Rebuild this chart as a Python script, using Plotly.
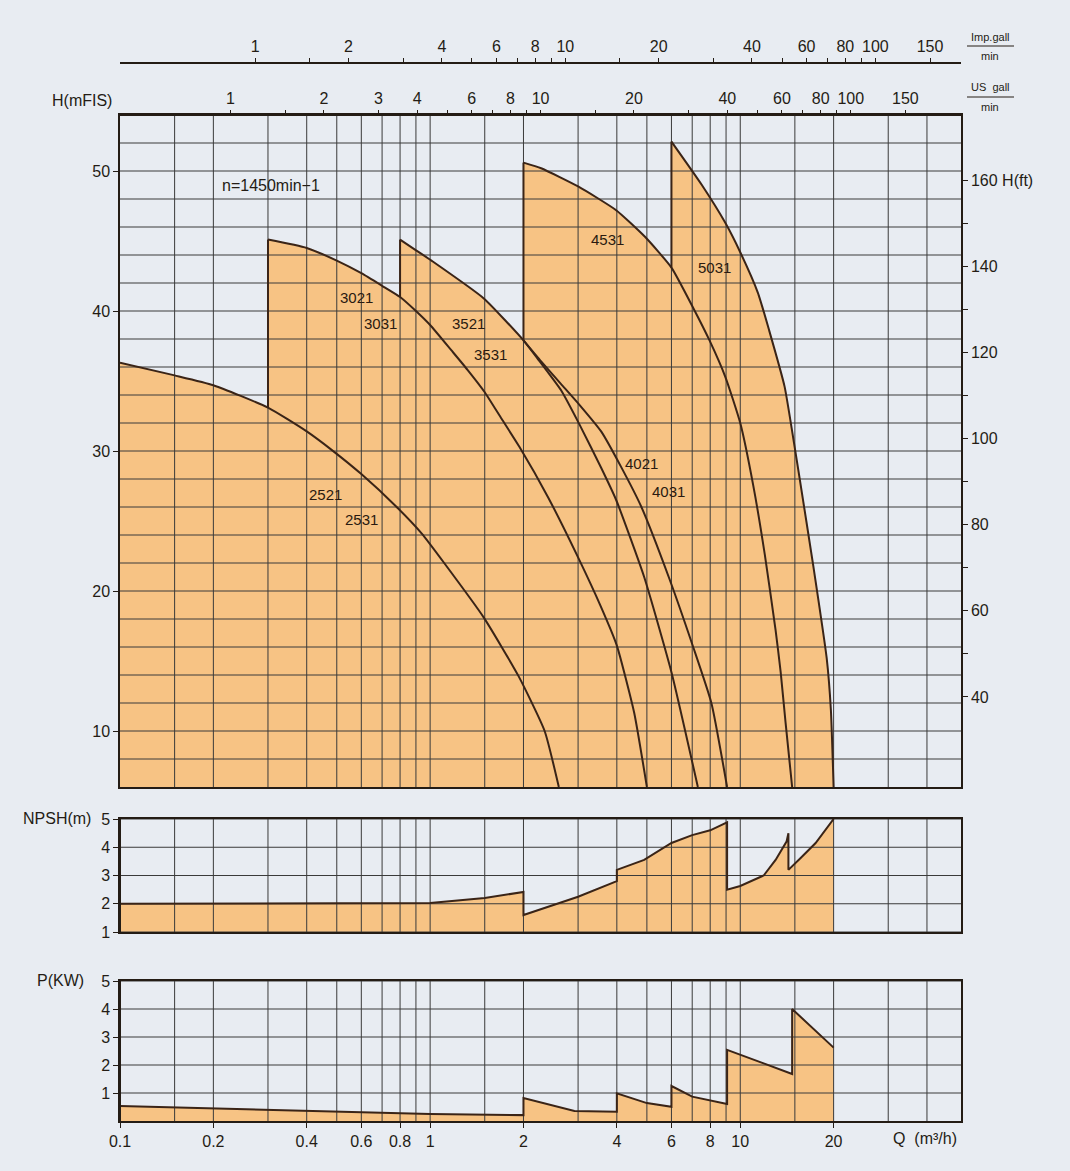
import numpy as np
import plotly.graph_objects as go

# ------------------------------------------------------------------ data
# Q in m3/h, H in m
Q_2521 = [0.1, 0.15, 0.2, 0.3, 0.4, 0.48, 0.6, 0.78, 0.94, 1.11, 1.49, 1.93, 2.34, 2.6]
H_2521 = [36.3, 35.4, 34.7, 33.1, 31.4, 30.1, 28.35, 26.0, 24.1, 22.0, 18.1, 13.9, 10.0, 6.0]

Q_3021 = [0.3, 0.4, 0.5, 0.6, 0.7, 0.8, 0.9, 1.0, 1.17, 1.32, 1.5, 1.7, 1.94, 2.4, 3.0,
          3.55, 4.0, 4.55, 5.0]
H_3021 = [45.1, 44.5, 43.6, 42.7, 41.8, 41.0, 40.0, 39.0, 37.2, 35.8, 34.2, 32.3, 30.3,
          26.7, 22.4, 18.9, 16.1, 11.3, 6.0]

Q_3521 = [0.8, 0.906, 1.01, 1.49, 2.0, 2.22, 2.65, 3.03, 3.56, 3.98, 4.9, 6.0, 7.3]
H_3521 = [45.1, 44.3, 43.6, 40.9, 37.9, 36.6, 34.3, 31.9, 28.8, 26.5, 21.0, 14.2, 6.0]

Q_4021 = [2.0, 2.28, 2.64, 3.03, 3.56, 4.12, 4.8, 5.88, 7.05, 8.07, 9.07]
H_4021 = [37.9, 36.4, 34.8, 33.3, 31.4, 28.9, 26.0, 21.0, 16.0, 12.0, 6.0]

Q_4531 = [2.0, 2.28, 3.0, 3.98, 4.93, 6.0, 7.06, 7.96, 8.95, 10.0, 11.0, 12.0, 13.0, 13.5,
          14.0, 14.7]
H_4531 = [50.6, 50.2, 48.9, 47.2, 45.3, 43.1, 40.2, 37.9, 35.3, 32.0, 27.6, 22.6, 17.2, 14.2,
          10.6, 6.0]

Q_5031 = [6.0, 7.52, 8.95, 10.0, 11.4, 12.4, 13.9, 14.9, 15.5, 17.2, 19.0, 19.6, 20.0]
H_5031 = [52.1, 49.0, 46.3, 44.2, 41.3, 38.6, 34.6, 30.6, 28.2, 21.8, 15.2, 11.5, 6.0]

NPSH_Q = [0.1, 1.0, 1.5, 2.0, 2.0, 3.0, 4.0, 4.0, 4.9, 6.0, 7.0, 8.0, 9.07, 9.07,
          10.0, 11.9, 13.0, 14.1, 14.3, 14.3, 15.6, 17.5, 20.0]
NPSH_V = [2.0, 2.03, 2.2, 2.42, 1.6, 2.25, 2.8, 3.2, 3.55, 4.15, 4.43, 4.6, 4.88, 2.5,
          2.63, 3.0, 3.55, 4.2, 4.5, 3.2, 3.6, 4.15, 5.0]

P_Q = [0.1, 0.2, 0.4, 0.5, 0.8, 1.0, 2.0, 2.0, 2.92, 4.0, 4.0, 5.0, 6.0, 6.0, 7.0, 9.07,
       9.07, 14.7, 14.7, 20.0]
P_V = [0.54, 0.45, 0.36, 0.33, 0.28, 0.25, 0.21, 0.82, 0.36, 0.33, 0.99, 0.64, 0.51, 1.25,
       0.87, 0.61, 2.54, 1.68, 4.0, 2.62]

GRID_Q = [0.15, 0.2, 0.3, 0.4, 0.5, 0.6, 0.7, 0.8, 0.9, 1, 1.5, 2, 3, 4, 5, 6, 7, 8, 9, 10,
          15, 20, 30, 40]
GRID_H = list(range(8, 54, 2))

Q_TICKS = [0.1, 0.2, 0.4, 0.6, 0.8, 1, 2, 4, 6, 8, 10, 20]
Q_TICKTEXT = ["0.1", "0.2", "0.4", "0.6", "0.8", "1", "2", "4", "6", "8", "10", "20"]
H_TICKS = [10, 20, 30, 40, 50]
SMALL_TICKS = [1, 2, 3, 4, 5]

US_TICKS = [1, 1.5, 2, 3, 4, 5, 6, 7, 8, 9, 10, 15, 20, 30, 40, 50, 60, 70, 80, 90, 100, 150]
US_TEXT = ["1", "", "2", "3", "4", "", "6", "", "8", "", "10", "", "20", "", "40", "", "60",
           "", "80", "", "100", "150"]
IMP_TICKS = [1, 1.5, 2, 3, 4, 5, 6, 7, 8, 9, 10, 15, 20, 30, 40, 50, 60, 70, 80, 90, 100, 150]
IMP_TEXT = ["1", "", "2", "", "4", "", "6", "", "8", "", "10", "", "20", "", "40", "", "60",
            "", "80", "", "100", "150"]
FT_TICKS = [40, 50, 60, 70, 80, 90, 100, 110, 120, 130, 140, 150, 160]
FT_TEXT = ["40", "", "60", "", "80", "", "100", "", "120", "", "140", "", "160 H(ft)"]

CURVE_LABELS = ["2521", "2531", "3021", "3031", "3521", "3531", "4021", "4031", "4531", "5031"]
LABEL_Q = [0.46, 0.6, 0.58, 0.69, 1.33, 1.57, 4.8, 5.86, 3.74, 8.29]
LABEL_H = [26.9, 25.1, 41.0, 39.1, 39.1, 36.9, 29.1, 27.1, 45.1, 43.1]

US_PER_M3H = 4.4029
IMP_PER_M3H = 3.6662
Q_MIN, Q_MAX = 0.1, 51.5
FT_RANGE = [19.1, 175.1]

# ------------------------------------------------------------------ style
W, HGT = 1070, 1171
BG = "#e8ecf2"
FILL = "#f7c384"
INK = "#241c15"
CURVE = "#3a2417"
GRIDC = "#3a3a3a"
FONT = "Liberation Sans"
SMOOTH = 0.5


def px_x(p):
    return p / W


def px_y(p):
    return 1 - p / HGT


X_DOM = [px_x(120), px_x(961)]
Y_MAIN = [px_y(787), px_y(115)]
Y_NPSH = [px_y(932), px_y(819)]
Y_P = [px_y(1121), px_y(981)]

fig = go.Figure()

# ---------------------------------------------------------- main panel
curves = [(Q_2521, H_2521), (Q_3021, H_3021), (Q_3521, H_3521),
          (Q_4021, H_4021), (Q_4531, H_4531), (Q_5031, H_5031)]

for q, h in curves:
    fig.add_trace(go.Scatter(x=q, y=h, mode="lines", fill="tozeroy", fillcolor=FILL,
                             line=dict(width=0, shape="spline", smoothing=SMOOTH),
                             xaxis="x", yaxis="y", hoverinfo="skip", showlegend=False))


def grid_xy(qs, y0, y1, hs, q0, q1):
    gx, gy = [], []
    for q in qs:
        gx += [q, q, None]
        gy += [y0, y1, None]
    for hv in hs:
        gx += [q0, q1, None]
        gy += [hv, hv, None]
    return gx, gy


gx, gy = grid_xy(GRID_Q, 6, 54, GRID_H, Q_MIN, Q_MAX)
fig.add_trace(go.Scatter(x=gx, y=gy, mode="lines", line=dict(color=GRIDC, width=1),
                         xaxis="x", yaxis="y", hoverinfo="skip", showlegend=False))


def interp_logq(q, qs, hs):
    return float(np.interp(np.log10(q), np.log10(qs), hs))


# vertical start edges: from the previous envelope curve up to the curve start
prev_for = {1: 0, 2: 1, 4: 2, 5: 4}
for i, (q, h) in enumerate(curves):
    if i in prev_for:
        pq, ph = curves[prev_for[i]]
        base = interp_logq(q[0], pq, ph)
        fig.add_trace(go.Scatter(x=[q[0], q[0]], y=[base, h[0]], mode="lines",
                                 line=dict(color=CURVE, width=2), xaxis="x", yaxis="y",
                                 hoverinfo="skip", showlegend=False))
    fig.add_trace(go.Scatter(x=q, y=h, mode="lines",
                             line=dict(color=CURVE, width=2, shape="spline",
                                       smoothing=SMOOTH),
                             xaxis="x", yaxis="y", hoverinfo="skip", showlegend=False))

# ---------------------------------------------------------- NPSH panel
fig.add_trace(go.Scatter(x=NPSH_Q, y=NPSH_V, mode="none", fill="tozeroy", fillcolor=FILL,
                         xaxis="x4", yaxis="y3", hoverinfo="skip", showlegend=False))
gx, gy = grid_xy(GRID_Q, 1, 5, SMALL_TICKS, Q_MIN, Q_MAX)
fig.add_trace(go.Scatter(x=gx, y=gy, mode="lines", line=dict(color=GRIDC, width=1),
                         xaxis="x4", yaxis="y3", hoverinfo="skip", showlegend=False))
fig.add_trace(go.Scatter(x=NPSH_Q, y=NPSH_V, mode="lines", line=dict(color=CURVE, width=2),
                         xaxis="x4", yaxis="y3", hoverinfo="skip", showlegend=False))

# ---------------------------------------------------------- P panel
fig.add_trace(go.Scatter(x=P_Q, y=P_V, mode="none", fill="tozeroy", fillcolor=FILL,
                         xaxis="x5", yaxis="y4", hoverinfo="skip", showlegend=False))
gx, gy = grid_xy(GRID_Q, 0, 5, SMALL_TICKS, Q_MIN, Q_MAX)
fig.add_trace(go.Scatter(x=gx, y=gy, mode="lines", line=dict(color=GRIDC, width=1),
                         xaxis="x5", yaxis="y4", hoverinfo="skip", showlegend=False))
fig.add_trace(go.Scatter(x=P_Q, y=P_V, mode="lines", line=dict(color=CURVE, width=2),
                         xaxis="x5", yaxis="y4", hoverinfo="skip", showlegend=False))

# dummy traces so the secondary scales are drawn
for xa, ya, yv in [("x2", "y", 10), ("x3", "y", 10), ("x", "y2", 50)]:
    fig.add_trace(go.Scatter(x=[1], y=[yv], xaxis=xa, yaxis=ya, mode="markers",
                             marker=dict(opacity=0), hoverinfo="skip", showlegend=False))

# ---------------------------------------------------------- axes
tickfont = dict(family=FONT, size=16, color=INK)
lq = [np.log10(Q_MIN), np.log10(Q_MAX)]
base_x = dict(type="log", range=lq, domain=X_DOM, showgrid=False, zeroline=False,
              showline=True, mirror=True, linecolor=INK, linewidth=1.5, automargin=False)
base_y = dict(showgrid=False, zeroline=False, showline=True, mirror=True, linecolor=INK,
              linewidth=1.5, ticks="outside", ticklen=5, tickcolor=INK, tickfont=tickfont,
              automargin=False)

fig.update_layout(
    width=W, height=HGT, autosize=False,
    margin=dict(l=0, r=0, t=0, b=0, pad=0, autoexpand=False),
    paper_bgcolor=BG, plot_bgcolor=BG,
    font=dict(family=FONT, size=16, color=INK),
    showlegend=False,
    xaxis=dict(base_x, anchor="y", showticklabels=False, ticks=""),
    yaxis=dict(base_y, range=[6, 54], domain=Y_MAIN, anchor="x", tickvals=H_TICKS),
    xaxis2=dict(type="log", overlaying="x", anchor="free", position=Y_MAIN[1], side="top",
                range=[np.log10(Q_MIN * US_PER_M3H), np.log10(Q_MAX * US_PER_M3H)],
                tickmode="array", tickvals=US_TICKS, ticktext=US_TEXT, ticks="outside",
                ticklen=4, tickcolor=INK, showline=True, linecolor=INK, linewidth=1.5,
                showgrid=False, zeroline=False, tickfont=tickfont, automargin=False),
    xaxis3=dict(type="log", overlaying="x", anchor="free", position=px_y(63), side="top",
                range=[np.log10(Q_MIN * IMP_PER_M3H), np.log10(Q_MAX * IMP_PER_M3H)],
                tickmode="array", tickvals=IMP_TICKS, ticktext=IMP_TEXT, ticks="outside",
                ticklen=4, tickcolor=INK, showline=True, linecolor=INK, linewidth=2,
                showgrid=False, zeroline=False, tickfont=tickfont, automargin=False),
    yaxis2=dict(overlaying="y", side="right", anchor="x", range=FT_RANGE, tickmode="array",
                tickvals=FT_TICKS, ticktext=FT_TEXT, ticks="outside", ticklen=5,
                tickcolor=INK, showline=True, linecolor=INK, linewidth=1.5, showgrid=False,
                zeroline=False, tickfont=tickfont, automargin=False),
    xaxis4=dict(base_x, anchor="y3", showticklabels=False, ticks=""),
    yaxis3=dict(base_y, range=[1, 5], domain=Y_NPSH, anchor="x4", tickvals=SMALL_TICKS),
    xaxis5=dict(base_x, anchor="y4", tickmode="array", tickvals=Q_TICKS,
                ticktext=Q_TICKTEXT, ticks="outside", ticklen=5, tickcolor=INK,
                tickfont=tickfont),
    yaxis4=dict(base_y, range=[0, 5], domain=Y_P, anchor="x5", tickvals=SMALL_TICKS),
)

# extended left spines of the lower panels
fig.add_shape(type="line", xref="paper", yref="y3", x0=X_DOM[0], x1=X_DOM[0], y0=0.5,
              y1=5.5, line=dict(color=INK, width=2))
fig.add_shape(type="line", xref="paper", yref="y4", x0=X_DOM[0], x1=X_DOM[0], y0=0,
              y1=5.5, line=dict(color=INK, width=2))

# fraction bars of the flow-unit labels
for yb in (46, 97):
    fig.add_shape(type="line", xref="paper", yref="paper", x0=px_x(967), x1=px_x(1014),
                  y0=px_y(yb), y1=px_y(yb), line=dict(color=INK, width=1))

# ---------------------------------------------------------- text
ann = []
for t, q, h in zip(CURVE_LABELS, LABEL_Q, LABEL_H):
    ann.append(dict(text=t, x=np.log10(q), y=h, xref="x", yref="y", showarrow=False,
                    font=dict(family=FONT, size=15, color="#2a1a10")))
ann.append(dict(text="n=1450min\u22121", x=np.log10(0.306), y=49.0, xref="x", yref="y",
                showarrow=False, font=dict(family=FONT, size=16, color=INK)))


def ptxt(text, xp, yp, size=16, xanchor="center"):
    ann.append(dict(text=text, x=px_x(xp), y=px_y(yp), xref="paper", yref="paper",
                    showarrow=False, xanchor=xanchor, yanchor="middle",
                    font=dict(family=FONT, size=size, color=INK)))


ptxt("H(mFIS)", 82, 100)
ptxt("NPSH(m)", 57, 818)
ptxt("P(KW)", 60, 980)
ptxt("Q  (m\u00b3/h)", 925, 1138)
ptxt("Imp.gall", 990, 37, size=11)
ptxt("min", 990, 56, size=11)
ptxt("US  gall", 990, 87, size=11)
ptxt("min", 990, 107, size=11)

fig.update_layout(annotations=ann)

fig.write_html(
    "out.html",
    config={"responsive": False, "displayModeBar": False},
    post_script="document.body.style.margin='0';document.body.style.padding='0';"
                "document.documentElement.style.overflow='hidden';",
)
